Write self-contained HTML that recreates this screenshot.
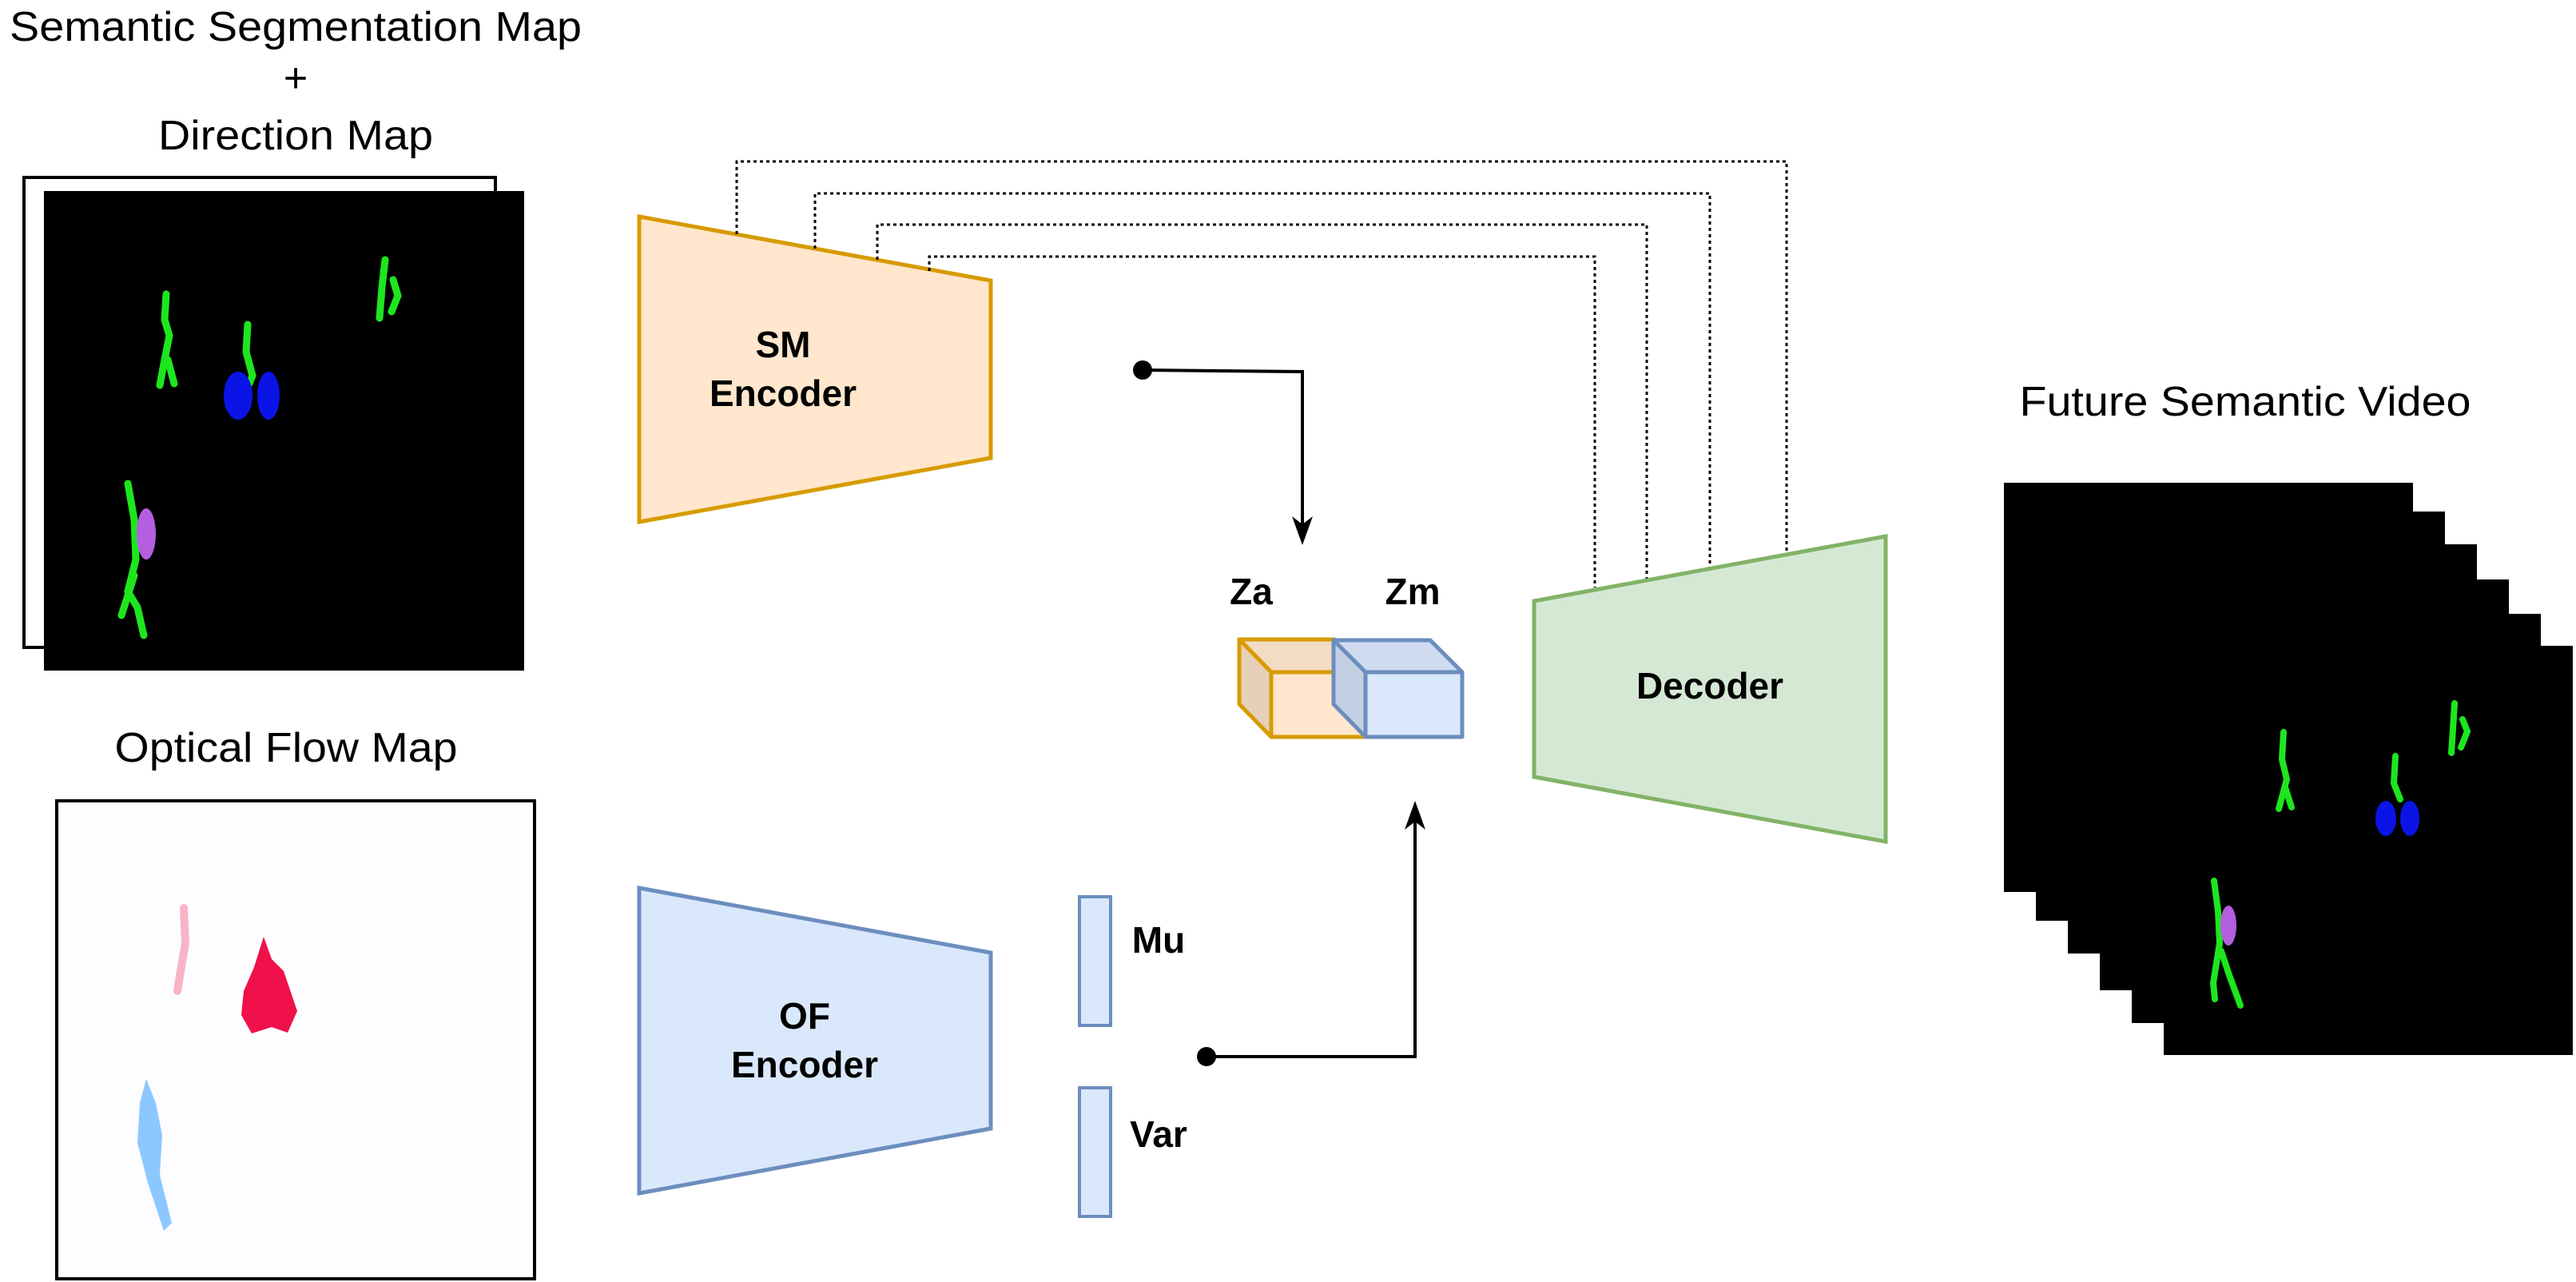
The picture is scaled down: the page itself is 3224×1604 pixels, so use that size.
<!DOCTYPE html>
<html><head><meta charset="utf-8"><style>html,body{margin:0;padding:0;background:#fff}svg{display:block}</style></head>
<body>
<svg xmlns="http://www.w3.org/2000/svg" width="3224" height="1604" viewBox="0 0 3224 1604">
<rect width="3224" height="1604" fill="#fff"/>
<g font-family="Liberation Sans, Arial, sans-serif" fill="#000">
<text x="370" y="51" font-size="52" text-anchor="middle" textLength="716" lengthAdjust="spacingAndGlyphs">Semantic Segmentation Map</text>
<text x="370" y="115" font-size="52" text-anchor="middle">+</text>
<text x="370" y="187" font-size="52" text-anchor="middle" textLength="344" lengthAdjust="spacingAndGlyphs">Direction Map</text>
<text x="358" y="953" font-size="52" text-anchor="middle" textLength="429" lengthAdjust="spacingAndGlyphs">Optical Flow Map</text>
<text x="2810" y="520" font-size="52" text-anchor="middle" textLength="565" lengthAdjust="spacingAndGlyphs">Future Semantic Video</text>
</g>
<!-- left SM image -->
<rect x="30" y="222" width="590" height="588" fill="#fff" stroke="#000" stroke-width="4"/>
<rect x="55" y="239" width="601" height="600" fill="#000"/>
<g stroke="#1ee61e" stroke-width="9" stroke-linecap="round" fill="none">
<polyline points="208,368 206,400 212,420 206,450 200,482"/><polyline points="210,450 218,480"/>
<polyline points="310,406 308,440 316,470 312,480"/>
<polyline points="482,325 478,360 475,398"/><polyline points="492,350 498,370 490,390"/>
<polyline points="160,605 168,650 170,700 160,740 172,760 180,795"/><polyline points="168,720 152,770"/>
</g>
<ellipse cx="298" cy="495" rx="18" ry="30" fill="#0a14e6"/><ellipse cx="336" cy="495" rx="14" ry="30" fill="#0a14e6"/>
<ellipse cx="183" cy="668" rx="12" ry="32" fill="#b45ee0"/>
<!-- OF image -->
<rect x="71" y="1002" width="598" height="598" fill="#fdfdff" stroke="#000" stroke-width="4"/>
<polyline points="230,1136 232,1180 226,1215 222,1240" stroke="#f8b4c4" stroke-width="10" fill="none" stroke-linecap="round"/>
<path d="M330,1172 L340,1200 L355,1215 L372,1265 L360,1292 L340,1285 L315,1293 L302,1270 L305,1240 L318,1210 Z" fill="#f0104a"/>
<path d="M183,1350 L195,1380 L203,1420 L200,1470 L215,1530 L205,1540 L185,1480 L172,1430 L175,1380 Z" fill="#8cc8ff"/>
<!-- SM encoder -->
<polygon points="800,271 1240,351 1240,573 800,653" fill="#ffe6cc" stroke="#d79b00" stroke-width="5"/>
<!-- OF encoder -->
<polygon points="800,1111 1240,1192 1240,1412 800,1493" fill="#dae8fc" stroke="#6c8ebf" stroke-width="5"/>
<rect x="1351" y="1122" width="39" height="161" fill="#dae8fc" stroke="#6c8ebf" stroke-width="4"/>
<rect x="1351" y="1361" width="39" height="161" fill="#dae8fc" stroke="#6c8ebf" stroke-width="4"/>
<!-- dotted skip -->
<g fill="none" stroke="#000" stroke-width="3" stroke-dasharray="4,4">
<polyline points="922,293 922,202 2236,202 2236,693"/>
<polyline points="1020,311 1020,242 2140,242 2140,711"/>
<polyline points="1098,325 1098,281 2061,281 2061,725"/>
<polyline points="1163,339 1163,321 1996,321 1996,735"/>
</g>
<!-- decoder -->
<polygon points="1920,752 2360,671 2360,1053 1920,972" fill="#d5e8d4" stroke="#82b366" stroke-width="5"/>
<!-- cubes -->
<g stroke-width="5" stroke-linejoin="round">
<polygon points="1551,800 1670,800 1710,841 1591,841" fill="#f3dcc4" stroke="#d79b00"/>
<polygon points="1551,800 1591,841 1591,922 1551,881" fill="#e6d0b8" stroke="#d79b00"/>
<rect x="1591" y="841" width="119" height="81" fill="#ffe6cc" stroke="#d79b00"/>
<polygon points="1669,801 1790,801 1830,841 1709,841" fill="#cfdcf0" stroke="#6c8ebf"/>
<polygon points="1669,801 1709,841 1709,922 1669,881" fill="#c3d0e3" stroke="#6c8ebf"/>
<rect x="1709" y="841" width="121" height="81" fill="#dae8fc" stroke="#6c8ebf"/>
</g>
<!-- arrows -->
<circle cx="1430" cy="463" r="12" fill="#000"/>
<polyline points="1430,463 1630,465 1630,672" fill="none" stroke="#000" stroke-width="4"/>
<path d="M1630,682 L1617,646 L1630,656 L1643,646 Z" fill="#000"/>
<circle cx="1510" cy="1322" r="12" fill="#000"/>
<polyline points="1510,1322 1771,1322 1771,1012" fill="none" stroke="#000" stroke-width="4"/>
<path d="M1771,1002 L1758,1038 L1771,1028 L1784,1038 Z" fill="#000"/>
<!-- video stack -->
<g fill="#000">
<rect x="2508" y="604" width="512" height="512"/>
<rect x="2548" y="640" width="512" height="512"/>
<rect x="2588" y="681" width="512" height="512"/>
<rect x="2628" y="725" width="512" height="514"/>
<rect x="2668" y="768" width="512" height="512"/>
<rect x="2708" y="808" width="512" height="512"/>
</g>
<g stroke="#1ee61e" stroke-width="8" stroke-linecap="round" fill="none">
<polyline points="2858,916 2856,950 2862,975 2852,1012"/><polyline points="2860,985 2868,1010"/>
<polyline points="2998,946 2996,980 3004,1000"/>
<polyline points="3072,880 3070,912 3068,942"/><polyline points="3082,900 3088,915 3080,935"/>
<polyline points="2771,1102 2776,1140 2778,1180 2770,1230 2772,1250"/><polyline points="2780,1190 2790,1220 2804,1258"/>
</g>
<ellipse cx="2986" cy="1024" rx="13" ry="22" fill="#0a14e6"/><ellipse cx="3016" cy="1024" rx="12" ry="22" fill="#0a14e6"/>
<ellipse cx="2789" cy="1158" rx="10" ry="25" fill="#b45ee0"/>
<!-- labels on top -->
<g font-family="Liberation Sans, Arial, sans-serif" font-weight="bold" font-size="46" text-anchor="middle" fill="#000">
<text x="980" y="447">SM</text><text x="980" y="508">Encoder</text>
<text x="1007" y="1287">OF</text><text x="1007" y="1348">Encoder</text>
<text x="2140" y="874">Decoder</text>
<text x="1566" y="756">Za</text><text x="1768" y="756">Zm</text>
<text x="1450" y="1192">Mu</text><text x="1450" y="1435">Var</text>
</g>
</svg>
</body></html>
